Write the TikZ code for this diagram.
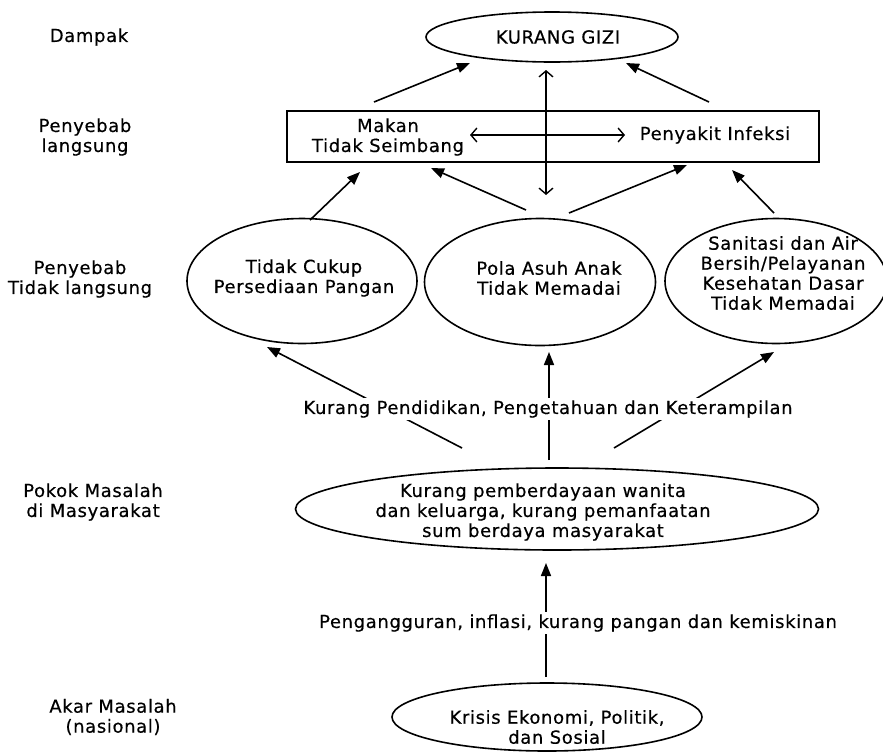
\documentclass[tikz,border=0pt]{standalone}
\usepackage{fontspec}
\setmainfont{DejaVu Sans}[LetterSpace=3.5,FakeBold=0.4]
\usetikzlibrary{shapes.geometric,arrows.meta}
\begin{document}
\begin{tikzpicture}[x=1pt,y=-1pt,
  txt/.style={align=center,font=\fontsize{18}{20}\selectfont,inner sep=0pt},
  ell/.style={ellipse,draw,line width=1.6pt,inner sep=0pt},
  arr/.style={line width=1.6pt,-{Triangle[length=13pt,width=10pt]}},
  darr/.style={line width=1.4pt,{Straight Barb[length=6pt,width=14pt]}-{Straight Barb[length=6pt,width=14pt]}},
  lbl/.style={txt,fill=white,inner sep=2pt}]
\useasboundingbox[fill=white] (0,0) rectangle (883,753);

% left level labels
\node[txt] (dampak) at (89,37) {Dampak};
\node[txt] (langsung) at (85,137) {Penyebab\\langsung};
\node[txt] (tlangsung) at (80,279) {Penyebab\\Tidak langsung};
\node[txt] (pokoklbl) at (93,502) {Pokok Masalah\\di Masyarakat};
\node[txt] (akarlbl) at (113,717) {Akar Masalah\\(nasional)};

% shapes
\node[ell,minimum width=252pt,minimum height=50pt] (gizi) at (552,37) {};
\node[txt] (gizit) at (558,37) {KURANG GIZI};

\node[draw,line width=1.4pt,minimum width=532pt,minimum height=51pt,inner sep=0pt] (box) at (553,136.5) {};
\node[txt] (makan) at (388,137) {Makan\\Tidak Seimbang};
\node[txt] (infeksi) at (715,135) {Penyakit Infeksi};

\node[ell,minimum width=230pt,minimum height=125pt] (e1) at (302,281) {};
\node[txt] (e1t) at (304,278) {Tidak Cukup\\Persediaan Pangan};
\node[ell,minimum width=231pt,minimum height=127pt] (e2) at (540,282) {};
\node[txt] (e2t) at (549,278) {Pola Asuh Anak\\Tidak Memadai};
\node[ell,minimum width=222pt,minimum height=125pt] (e3) at (776,281) {};
\node[txt] (e3t) at (783,273) {Sanitasi dan Air\\Bersih/Pelayanan\\Kesehatan Dasar\\Tidak Memadai};

\node[ell,minimum width=523pt,minimum height=82pt] (pokok) at (557,509) {};
\node[txt] (pokokt) at (543,512) {Kurang pemberdayaan wanita\\dan keluarga, kurang pemanfaatan\\sum berdaya masyarakat};

\node[ell,minimum width=310pt,minimum height=68pt] (krisis) at (547,717) {};
\node[txt] (krisist) at (557,727) {Krisis Ekonomi, Politik,\\dan Sosial};

% arrow end points
\coordinate (a1s) at (374,102); \coordinate (a1e) at (470,63);
\coordinate (a2s) at (709,102); \coordinate (a2e) at (626,63);
\coordinate (vs) at (546,70);   \coordinate (ve) at (546,195);
\coordinate (hs) at (470,135);  \coordinate (he) at (625,135);
\coordinate (b1s) at (310,220); \coordinate (b1e) at (360,172);
\coordinate (b2s) at (526,210); \coordinate (b2e) at (431,168);
\coordinate (b3s) at (569,213); \coordinate (b3e) at (687,165);
\coordinate (b4s) at (774,213); \coordinate (b4e) at (732,170);
\coordinate (c1s) at (462,448); \coordinate (c1e) at (267,347);
\coordinate (c2s) at (549,460); \coordinate (c2e) at (549,352);
\coordinate (c3s) at (614,448); \coordinate (c3e) at (774,352);
\coordinate (ds) at (546,677);  \coordinate (de) at (546,563);

\draw[arr] (a1s) -- (a1e);
\draw[arr] (a2s) -- (a2e);
\draw[darr] (vs) -- (ve);
\draw[darr] (hs) -- (he);
\draw[arr] (b1s) -- (b1e);
\draw[arr] (b2s) -- (b2e);
\draw[arr] (b3s) -- (b3e);
\draw[arr] (b4s) -- (b4e);
\draw[arr] (c1s) -- (c1e);
\draw[arr] (c2s) -- (c2e);
\draw[arr] (c3s) -- (c3e);
\draw[arr] (ds) -- (de);

% labels on connectors
\node[lbl] (pend) at (548,409) {Kurang Pendidikan, Pengetahuan dan Keterampilan};
\node[lbl] (peng) at (578,623) {Pengangguran, inflasi, kurang pangan dan kemiskinan};
\end{tikzpicture}
\end{document}
